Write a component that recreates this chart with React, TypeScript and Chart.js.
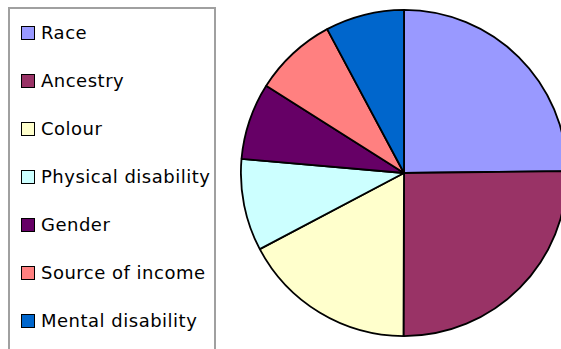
import React, { useEffect, useRef } from "react";
import { Chart, registerables } from "chart.js";

Chart.register(...registerables);

const categories = [
  "Race",
  "Ancestry",
  "Colour",
  "Physical disability",
  "Gender",
  "Source of income",
  "Mental disability",
];
const values = [24.8, 25.2, 17.2, 9.1, 7.6, 8.2, 7.8];
const colors = ["#9999FF", "#993366", "#FFFFCC", "#CCFFFF", "#660066", "#FF8080", "#0066CC"];

export default function App() {
  const ref = useRef<HTMLCanvasElement | null>(null);

  useEffect(() => {
    if (!ref.current) return;
    const chart = new Chart(ref.current, {
      type: "pie",
      data: {
        labels: categories,
        datasets: [
          {
            data: values,
            backgroundColor: colors,
            borderColor: "#000000",
            borderWidth: 1.8,
          },
        ],
      },
      options: {
        responsive: false,
        animation: false,
        plugins: {
          legend: { display: false },
          tooltip: { enabled: false },
        },
        layout: { padding: 0 },
      },
    });
    return () => chart.destroy();
  }, []);

  return (
    <div
      style={{
        position: "fixed",
        left: 0,
        top: 0,
        width: 561,
        height: 349,
        overflow: "hidden",
        background: "#ffffff",
      }}
    >
      <canvas
        ref={ref}
        width={328}
        height={328}
        style={{ position: "absolute", left: 240, top: 9, width: 328, height: 328 }}
      />
      <div
        style={{
          position: "absolute",
          left: 8,
          top: 7,
          width: 204,
          height: 360,
          border: "2px solid #a0a0a0",
          background: "#ffffff",
          fontFamily: "'DejaVu Sans', sans-serif",
          fontSize: 18,
          letterSpacing: 0.5,
          color: "#000",
        }}
      >
        {categories.map((c, i) => (
          <div
            key={c}
            style={{
              position: "absolute",
              left: 11,
              top: 11 + i * 48,
              height: 24,
              display: "flex",
              alignItems: "center",
              whiteSpace: "nowrap",
            }}
          >
            <span
              style={{
                display: "inline-block",
                width: 12,
                height: 12,
                border: "1.5px solid #000",
                background: colors[i],
                marginRight: 6,
                marginTop: 2,
              }}
            />
            <span>{c}</span>
          </div>
        ))}
      </div>
    </div>
  );
}
